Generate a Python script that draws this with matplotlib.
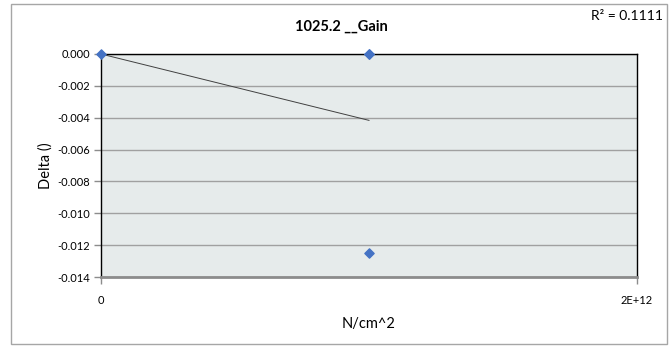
import numpy as np
import matplotlib.pyplot as plt
from matplotlib.patches import Rectangle

plt.rcParams['font.family'] = ['Lato', 'DejaVu Sans']

# data points (N/cm^2, Delta)
x_vals = [0, 1e12, 1e12, 1e12]
y_vals = [0.0, 0.0, 0.0, -0.0125]
title = "1025.2 __Gain"
x_ticks = [0, 2e12]
x_tick_labels = ["0", "2E+12"]
y_ticks = [0.000, -0.002, -0.004, -0.006, -0.008, -0.010, -0.012, -0.014]

fig = plt.figure(figsize=(6.71, 3.46), dpi=100)
fig.patch.set_facecolor("white")
# outer chart frame
fig.patches.append(Rectangle((11 / 671, 2 / 346), 656 / 671, 340 / 346,
                             transform=fig.transFigure, fill=False,
                             edgecolor="#a6a6a6", lw=1))

ax = fig.add_axes([101 / 671, 69 / 346, 536 / 671, 223 / 346])
ax.set_facecolor("#e6ebeb")

# linear trendline (least squares)
xs = np.array(x_vals)
ys = np.array(y_vals)
slope, intercept = np.polyfit(xs, ys, 1)
r2 = np.corrcoef(xs, ys)[0, 1] ** 2
xl = np.array([xs.min(), xs.max()])
ax.plot(xl, slope * xl + intercept, color="#404040", lw=0.7, zorder=3)

ax.scatter(xs, ys, marker="D", s=22, color="#4472c4", zorder=5, clip_on=False)

ax.set_xlim(0, 2e12)
ax.set_ylim(-0.014, 0)
ax.set_xticks(x_ticks)
ax.set_xticklabels(x_tick_labels)
ax.set_yticks(y_ticks)
ax.set_yticklabels([f"{v:.3f}" for v in y_ticks])
ax.yaxis.grid(True, color="#a0a0a0", lw=1)
ax.set_axisbelow(True)

for side in ["left", "top", "right"]:
    ax.spines[side].set_color("black")
    ax.spines[side].set_linewidth(1)
ax.spines["bottom"].set_color("#8c8c8c")
ax.spines["bottom"].set_linewidth(2)

ax.tick_params(axis="both", labelsize=8, color="#8c8c8c", length=5, width=1)
ax.tick_params(axis="x", pad=8)
ax.tick_params(axis="y", pad=3)

ax.set_xlabel("N/cm^2", fontsize=10.5, labelpad=8)
ax.set_ylabel("Delta ()", fontsize=10.5, labelpad=3)

fig.text(341 / 671, 1 - 27 / 346, title, ha="center", va="center",
         fontsize=10.5, fontweight="bold")
fig.text(663 / 671, 1 - 16 / 346, f"R² = {r2:.4f}", ha="right", va="center",
         fontsize=10)

fig.savefig("out.png", dpi=100)
